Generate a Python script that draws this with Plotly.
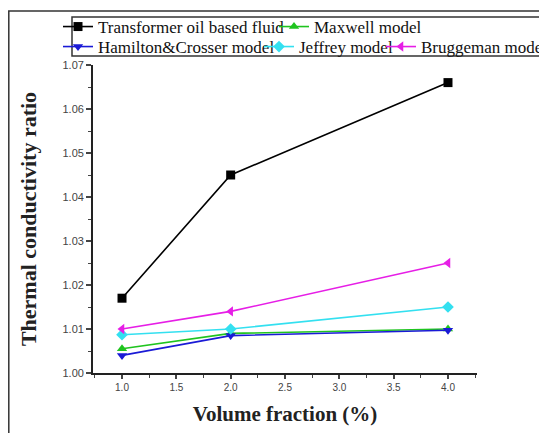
import plotly.graph_objects as go

volume_fraction = [1.0, 2.0, 4.0]
transformer_oil = [1.017, 1.045, 1.066]
maxwell = [1.0055, 1.009, 1.010]
hamilton_crosser = [1.004, 1.0085, 1.0097]
jeffrey = [1.0087, 1.010, 1.015]
bruggeman = [1.010, 1.014, 1.025]

series = [
    ("Transformer oil based fluid", transformer_oil, "#000000", "square", "legend"),
    ("Maxwell model", maxwell, "#1fc41f", "triangle-up", "legend2"),
    ("Hamilton&Crosser model", hamilton_crosser, "#1a1ad6", "triangle-down", "legend3"),
    ("Jeffrey model", jeffrey, "#33e0f0", "diamond", "legend4"),
    ("Bruggeman model", bruggeman, "#e61ee6", "triangle-left", "legend5"),
]

fig = go.Figure()
for name, vals, color, sym, lg in series:
    fig.add_trace(go.Scatter(
        x=volume_fraction, y=vals, name=name, mode="lines+markers",
        line=dict(color=color, width=1.6),
        marker=dict(symbol=sym, size=9, color=color),
        legend=lg,
    ))

serif = "Liberation Serif"
W, H = 539, 425          # page has an 8px body margin
L, R, T, B = 85, 70, 57, 60
PW = W - L - R
PH = H - T - B


def px_x(px):
    return (px - L) / PW


def px_y(py):
    return (H - B - py) / PH


def leg(x_px, y_px):
    return dict(orientation="h", x=px_x(x_px), y=px_y(y_px), xanchor="left", yanchor="middle",
                font=dict(family=serif, size=17, color="#111"),
                bgcolor="rgba(0,0,0,0)", itemwidth=30)


fig.update_layout(
    width=W, height=H,
    margin=dict(l=L, r=R, t=T, b=B, autoexpand=False),
    paper_bgcolor="white", plot_bgcolor="white",
    showlegend=True,
    legend=leg(50, 19),
    legend2=leg(266, 19),
    legend3=leg(50, 39),
    legend4=leg(251, 39),
    legend5=leg(373, 39),
    xaxis=dict(range=[0.733, 4.267], tickvals=[1.0, 1.5, 2.0, 2.5, 3.0, 3.5, 4.0],
               tickformat=".1f", ticks="outside", ticklen=4, tickwidth=1.5,
               minor=dict(dtick=0.25, ticks="outside", ticklen=3, tickwidth=1.2),
               showline=True, linecolor="#222", linewidth=1.8, showgrid=False,
               zeroline=False, automargin=False,
               tickfont=dict(family="Liberation Sans", size=10, color="#444"),
               title=dict(text="<b>Volume fraction (%)</b>", font=dict(family=serif, size=21, color="#222"),
                          standoff=14)),
    yaxis=dict(range=[1.0, 1.07], tickvals=[1.00, 1.01, 1.02, 1.03, 1.04, 1.05, 1.06, 1.07],
               tickformat=".2f", ticks="outside", ticklen=5, tickwidth=1.5,
               minor=dict(dtick=0.005, ticks="outside", ticklen=3, tickwidth=1.2),
               showline=True, linecolor="#222", linewidth=1.8, showgrid=False,
               zeroline=False, automargin=False,
               tickfont=dict(family="Liberation Sans", size=11, color="#444"),
               title=dict(text="<b>Thermal conductivity ratio</b>", font=dict(family=serif, size=22, color="#222"),
                          standoff=20)),
    shapes=[
        dict(type="rect", xref="paper", yref="paper", x0=px_x(0.8), x1=px_x(560), y0=px_y(445), y1=px_y(3),
             line=dict(color="#333", width=1.5), fillcolor="rgba(0,0,0,0)", layer="below"),
        dict(type="rect", xref="paper", yref="paper", x0=px_x(64), x1=px_x(560), y0=px_y(48), y1=px_y(9),
             line=dict(color="#333", width=1.5), fillcolor="rgba(0,0,0,0)"),
    ],
)

fig.write_html("out.html")
